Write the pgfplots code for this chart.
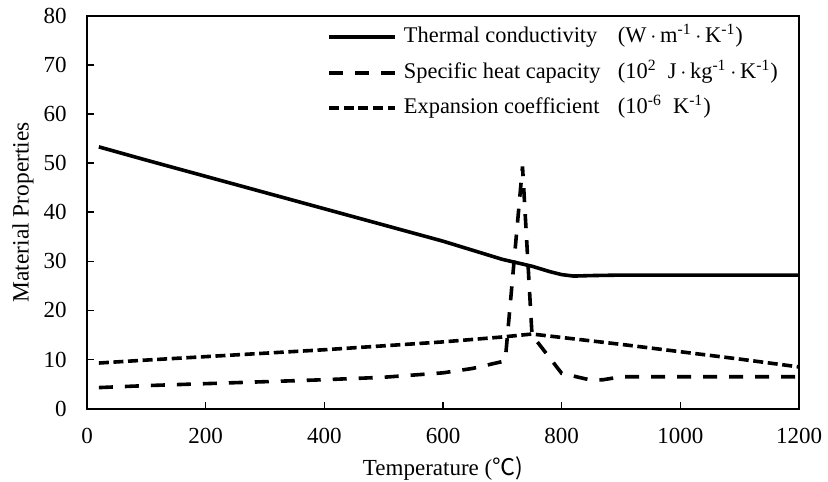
\documentclass[border=0pt]{standalone}
\usepackage{pgfplots}
\pgfplotsset{compat=1.18}
\usepackage{fontspec}
\setmainfont{Liberation Serif}
\newfontfamily\cjk{Noto Sans CJK SC}
\newcommand{\lf}{\fontsize{11.2}{13.4}\selectfont}
\newcommand{\sd}{\,$\cdot$\,}
\begin{document}
\fontsize{11.5}{13.8}\selectfont
\begin{tikzpicture}
\begin{axis}[
  scale only axis,
  width=356pt, height=196.5pt,
  at={(0,0)}, anchor=south west,
  xmin=0, xmax=1200, ymin=0, ymax=80,
  xtick={0,200,...,1200}, ytick={0,10,...,80},
  xtick pos=bottom, ytick pos=left,
  tick align=inside,
  major tick length=3.4pt,
  axis line style={line width=1.1pt},
  every tick/.style={line width=0.8pt, black},
  /pgf/number format/assume math mode=true,
  /pgf/number format/1000 sep={},
  tick label style={font=\fontsize{11.5}{13.8}\selectfont},
  yticklabel style={xshift=-6.2pt},
  xticklabel style={yshift=-5.7pt},
  xlabel={Temperature (\cjk{℃})},
  ylabel={Material Properties},
  xlabel style={at={(axis description cs:0.5,0)}, anchor=center, yshift=-30pt, font=\fontsize{11.5}{13.8}\selectfont},
  ylabel style={at={([xshift=-32pt]axis description cs:0,0.5)}, anchor=center, font=\fontsize{11.7}{14}\selectfont},
  legend cell align=left,
  legend style={draw=none, fill=none, at={(rel axis cs:0.337,0.973)}, anchor=north west,
    inner sep=0pt, row sep=7.25pt,
    nodes={inner sep=0pt, text height=8pt, text depth=2.5pt}},
  legend image code/.code={\draw[#1] (0pt,0pt) -- (33pt,0pt); \path (36.5pt,0pt);},
]
\addplot[black, line width=1.8pt] coordinates {
(20,53.3)(100,50.6)(200,47.3)(300,44.0)(400,40.7)(500,37.4)(600,34.1)(700,30.4)(750,29.0)(780,27.9)(800,27.3)(820,27.0)(850,27.1)(900,27.2)(1000,27.2)(1100,27.2)(1200,27.2)};
\addlegendentry{\lf\makebox[107pt][l]{Thermal conductivity}(W\sd m\textsuperscript{-1}\sd K\textsuperscript{-1})}
\addplot[black, line width=1.8pt, dash pattern=on 7pt off 6pt] coordinates {
(20,4.3)(100,4.7)(200,5.1)(300,5.5)(400,5.9)(500,6.4)(600,7.3)(650,8.2)(700,9.6)(705,10.0)(734,49.3)(750,15.0)(800,7.2)(850,5.8)(870,5.9)(900,6.5)(1000,6.5)(1100,6.5)(1200,6.5)};
\addlegendentry{\lf\makebox[107pt][l]{Specific heat capacity}(10\textsuperscript{2}\ \ J\sd kg\textsuperscript{-1}\sd K\textsuperscript{-1})}
\addplot[black, line width=1.8pt, dash pattern=on 5pt off 2.3pt] coordinates {
(20,9.3)(100,9.9)(200,10.6)(300,11.3)(400,12.0)(500,12.8)(600,13.6)(700,14.6)(750,15.2)(800,14.5)(900,13.1)(1000,11.6)(1100,10.1)(1200,8.5)};
\addlegendentry{\lf\makebox[107pt][l]{Expansion coefficient}(10\textsuperscript{-6}\ \ K\textsuperscript{-1})}
\end{axis}
\pgfresetboundingbox
\path (-43.5pt,-36.5pt) rectangle (370.5pt,204.35pt);
\end{tikzpicture}
\end{document}
